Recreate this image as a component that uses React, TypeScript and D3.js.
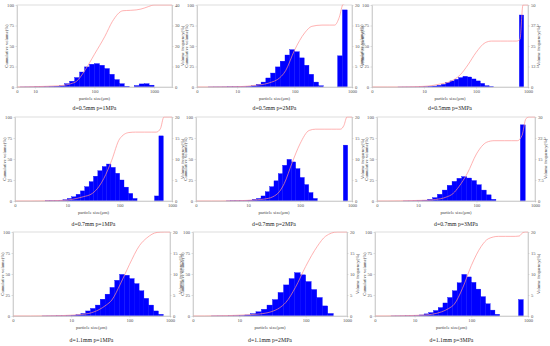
import React, { useEffect, useRef } from "react";
import * as d3 from "d3";

// particle size classes (um), lower/upper edges of the histogram bins
const sizeClasses = [1, 1.21, 1.47, 1.78, 2.15, 2.61, 3.16, 3.83, 4.64, 5.62, 6.81, 8.25,
  10, 12.1, 14.7, 17.8, 21.5, 26.1, 31.6, 38.3, 46.4, 56.2, 68.1, 82.5,
  100, 121, 147, 178, 215, 261, 316, 383, 464, 562, 681, 825, 1000];

// sizes where the cumulative curve was read
const cumSizes = [1, 2, 3, 5, 7, 10, 15, 20, 30, 40, 50, 70, 100, 150, 200, 300, 400, 500, 600, 700, 800, 900, 1000, 2000];

const titles = [
  "d=0.5mm p=1MPa", "d=0.5mm p=2MPa", "d=0.5mm p=3MPa",
  "d=0.7mm p=1MPa", "d=0.7mm p=2MPa", "d=0.7mm p=3MPa",
  "d=1.1mm p=1MPa", "d=1.1mm p=2MPa", "d=1.1mm p=3MPa",
];
const freqMax = [40, 20, 50, 20, 20, 30, 20, 20, 20];
const xDomains = [[5, 2000], [2, 1000], [1, 1000], [1, 1000], [1, 1000], [2, 1000], [1, 500], [2, 420], [2, 1000]];
const xTickLabels = ["0", "10", "100", "1000"];
const cumTicks = [0, 25, 50, 75, 100];

// volume frequency (%) per size class
const freq1 = [0, 0, 0, 0, 0, 0, 0, 0, 0, 0.03, 0.05, 0.07, 0.1, 0.15, 0.2, 0.3, 0.4, 0.6, 1.6, 2.8, 4.6, 7.3, 9.8, 11.1, 11.4, 10.6, 9.0, 6.2, 3.6, 1.6, 0.3, 0, 0.7, 1.5, 1.6, 0.9];
const freq2 = [0, 0, 0, 0, 0, 0, 0.02, 0.03, 0.03, 0.04, 0.05, 0.07, 0.1, 0.12, 0.15, 0.3, 0.65, 1.2, 2.2, 3.4, 4.9, 6.3, 7.8, 9.1, 8.6, 7.1, 5.3, 3.1, 1.2, 0.3, 0, 0, 0, 7.6, 18.8, 0];
const freq3 = [0, 0, 0, 0, 0, 0, 0.02, 0.03, 0.04, 0.05, 0.08, 0.12, 0.2, 0.35, 0.6, 1.0, 1.6, 2.7, 3.7, 4.7, 5.7, 6.5, 6.1, 4.9, 3.7, 2.2, 0.8, 0.2, 0, 0, 0, 0, 0, 0, 43.9, 0];
const freq4 = [0, 0, 0, 0, 0, 0, 0, 0.05, 0.08, 0.12, 0.18, 0.3, 0.6, 1.0, 1.6, 2.4, 3.4, 4.6, 5.9, 7.2, 8.2, 8.8, 8.0, 6.6, 5.0, 3.3, 1.8, 0.6, 0, 0, 0, 0, 1.2, 15.5, 0, 0];
const freq5 = [0, 0, 0, 0, 0, 0, 0, 0.03, 0.05, 0.08, 0.12, 0.15, 0.2, 0.4, 0.6, 1.2, 2.2, 3.4, 4.8, 6.5, 8.5, 9.9, 9.3, 7.7, 5.6, 3.9, 2.0, 0.6, 0, 0, 0, 0, 0, 0, 13.3, 0];
const freq6 = [0, 0, 0, 0, 0, 0, 0, 0, 0, 0.03, 0.05, 0.08, 0.15, 0.3, 0.6, 1.2, 2.4, 3.9, 5.6, 7.0, 8.1, 8.7, 8.2, 7.3, 5.8, 3.9, 2.2, 0.6, 0, 0, 0, 0, 0, 27.2, 0, 0];
const freq7 = [0, 0, 0, 0, 0, 0, 0.02, 0.03, 0.04, 0.05, 0.08, 0.12, 0.2, 0.3, 0.6, 1.2, 1.8, 2.6, 4.0, 5.2, 6.8, 8.5, 9.9, 9.7, 8.9, 7.7, 6.0, 4.2, 2.6, 1.2, 0.4, 0, 0, 0, 0, 0];
const freq8 = [0, 0, 0, 0, 0, 0, 0, 0.02, 0.03, 0.03, 0.05, 0.08, 0.12, 0.25, 0.55, 1.0, 1.6, 2.6, 3.9, 5.6, 7.4, 8.9, 10.3, 9.8, 8.2, 6.3, 4.4, 2.4, 0.6, 0, 0, 0, 0, 0, 0, 0];
const freq9 = [0, 0, 0, 0, 0, 0, 0, 0.02, 0.03, 0.04, 0.05, 0.08, 0.12, 0.25, 0.5, 0.8, 1.3, 2.0, 3.1, 4.4, 6.0, 7.9, 9.9, 9.3, 8.0, 6.4, 4.6, 2.9, 1.4, 0.4, 0, 0, 0, 0, 3.9, 0];

// cumulative volume (%) at cumSizes
const cum1 = [0, 0, 0, 0, 0.1, 0.4, 0.8, 1.2, 2, 4, 7, 21, 40, 62, 80, 93, 93.5, 94, 95, 96.5, 98, 99.3, 100, 100];
const cum2 = [0, 0, 0, 0.1, 0.2, 0.4, 1, 2, 3.5, 6, 9, 20, 45, 66, 74, 75.5, 75.5, 75.5, 85, 101, 102, 102, 102, 102];
const cum3 = [0, 0, 0, 0.2, 0.4, 0.8, 2, 3.5, 6, 10, 15, 27, 42, 54, 56, 56, 56, 56, 56, 58, 100, 100, 100, 100];
const cum4 = [0, 0, 0.1, 0.3, 0.6, 1.2, 3, 5, 9, 17, 27, 48, 74, 81.5, 82, 82, 82, 82, 86, 100, 100, 100, 100, 100];
const cum5 = [0, 0, 0, 0.2, 0.4, 0.8, 1.5, 2.2, 5, 11, 21, 45, 68, 84, 85.5, 85.5, 85.5, 85.5, 85.5, 90, 100, 100, 100, 100];
const cum6 = [0, 0, 0, 0.2, 0.4, 0.7, 1, 1.8, 4.5, 9, 17, 33, 56, 70, 71.8, 71.8, 71.8, 71.8, 78, 98, 100, 100, 100, 100];
const cum7 = [0, 0, 0.1, 0.3, 0.5, 1, 1.8, 3, 7.5, 13, 19, 38, 61, 84, 93, 99.5, 100, 100, 100, 100, 100, 100, 100, 100];
const cum8 = [0, 0, 0, 0.3, 0.5, 1, 1.6, 2.4, 5, 9.5, 16, 34, 59, 83, 95, 100, 100, 100, 100, 100, 100, 100, 100, 100];
const cum9 = [0, 0, 0, 0.2, 0.4, 0.7, 1.2, 2, 5, 9, 14, 33, 60, 83, 92, 94.8, 94.8, 94.8, 94.8, 95.2, 99, 100, 100, 100];

const freqs = [freq1, freq2, freq3, freq4, freq5, freq6, freq7, freq8, freq9];
const cums = [cum1, cum2, cum3, cum4, cum5, cum6, cum7, cum8, cum9];

// plot boxes of the 3x3 grid (px)
const boxes = [
  { l: 17, r: 172, t: 5, b: 87, title: 110 },
  { l: 197, r: 352, t: 5, b: 87, title: 110 },
  { l: 372, r: 528, t: 5, b: 87, title: 110 },
  { l: 15, r: 172, t: 117, b: 201, title: 226 },
  { l: 196, r: 352, t: 117, b: 201, title: 226 },
  { l: 377, r: 535, t: 117, b: 201, title: 226 },
  { l: 13, r: 170, t: 232, b: 316, title: 342 },
  { l: 193, r: 347, t: 232, b: 316, title: 342 },
  { l: 375, r: 528, t: 232, b: 316, title: 342 },
];

const FONT = "'Liberation Serif', 'Times New Roman', serif";

export default function App() {
  const ref = useRef<SVGSVGElement>(null);

  useEffect(() => {
    const svg = d3.select(ref.current);
    svg.selectAll("*").remove();

    boxes.forEach((bx, i) => {
      const [lo, hi] = xDomains[i];
      const x = d3.scaleLog().domain([lo, hi]).range([bx.l, bx.r]);
      const yCum = d3.scaleLinear().domain([0, 100]).range([bx.b, bx.t]);
      const yFreq = d3.scaleLinear().domain([0, freqMax[i]]).range([bx.b, bx.t]);
      const g = svg.append("g");

      g.append("clipPath").attr("id", `clip${i}`)
        .append("rect")
        .attr("x", bx.l).attr("y", bx.t - 0.5)
        .attr("width", bx.r - bx.l).attr("height", bx.b - bx.t + 1.5);

      // bars
      const bins = freqs[i]
        .map((v, k) => ({ x0: sizeClasses[k], x1: sizeClasses[k + 1], v }))
        .filter(d => d.v > 0 && d.x1 > lo && d.x0 < hi);
      g.append("g").attr("clip-path", `url(#clip${i})`)
        .selectAll("rect")
        .data(bins)
        .join("rect")
        .attr("x", d => x(Math.max(d.x0, lo)))
        .attr("width", d => x(Math.min(d.x1, hi)) - x(Math.max(d.x0, lo)))
        .attr("y", d => yFreq(d.v))
        .attr("height", d => bx.b - yFreq(d.v))
        .attr("fill", "#0000ff")
        .attr("stroke", "#0000ff")
        .attr("stroke-width", 0.35);

      // frame
      g.append("rect")
        .attr("x", bx.l).attr("y", bx.t)
        .attr("width", bx.r - bx.l).attr("height", bx.b - bx.t)
        .attr("fill", "none").attr("stroke", "#d4d4d4").attr("stroke-width", 0.8);

      // cumulative curve
      const line = d3.line<number[]>()
        .x(d => x(d[0]))
        .y(d => yCum(d[1]))
        .curve(d3.curveMonotoneX);
      g.append("path")
        .attr("clip-path", `url(#clip${i})`)
        .datum(cumSizes.map((s, k) => [s, cums[i][k]]))
        .attr("d", line)
        .attr("fill", "none")
        .attr("stroke", "#ff9090")
        .attr("stroke-width", 0.7);

      // axes
      const styleAxis = (a: any) => {
        a.select(".domain").attr("stroke", "#bdbdbd").attr("stroke-width", 0.6);
        a.selectAll(".tick line").attr("stroke", "#bdbdbd").attr("stroke-width", 0.5);
        a.selectAll("text").attr("font-size", 4.6).attr("font-family", FONT).attr("fill", "#555");
      };

      g.append("g")
        .attr("transform", `translate(${bx.l},0)`)
        .call(d3.axisLeft(yCum).tickValues(cumTicks).tickSize(1.5).tickSizeOuter(0).tickPadding(1.5))
        .call(styleAxis);

      const fTicks = d3.range(5).map(k => freqMax[i] * k / 4);
      g.append("g")
        .attr("transform", `translate(${bx.r},0)`)
        .call(d3.axisRight(yFreq).tickValues(fTicks).tickFormat(d => String(d)).tickSize(1.5).tickSizeOuter(0).tickPadding(1.5))
        .call(styleAxis);

      const xTicks = [lo, 10, 100, Math.min(1000, hi)];
      g.append("g")
        .attr("transform", `translate(0,${bx.b})`)
        .call(d3.axisBottom(x).tickValues(xTicks).tickFormat((d, j) => xTickLabels[j]).tickSize(1.5).tickSizeOuter(0).tickPadding(1))
        .call(styleAxis);

      // axis titles
      const midY = (bx.t + bx.b) / 2;
      g.append("text")
        .attr("transform", `translate(${bx.l - 9},${midY}) rotate(-90)`)
        .attr("text-anchor", "middle")
        .attr("font-size", 4.6).attr("font-family", FONT).attr("fill", "#444")
        .text("Cumulative volume(%)");
      g.append("text")
        .attr("transform", `translate(${bx.r + 12},${midY}) rotate(-90)`)
        .attr("text-anchor", "middle")
        .attr("font-size", 4.6).attr("font-family", FONT).attr("fill", "#444")
        .text("Volume frequency(%)");
      g.append("text")
        .attr("x", (bx.l + bx.r) / 2).attr("y", bx.b + 12.5)
        .attr("text-anchor", "middle")
        .attr("font-size", 4.6).attr("font-family", FONT).attr("fill", "#444")
        .text("particle size(μm)");

      // panel caption
      g.append("text")
        .attr("x", (bx.l + bx.r) / 2).attr("y", bx.title)
        .attr("text-anchor", "middle")
        .attr("font-size", 5.8).attr("font-family", FONT).attr("fill", "#222")
        .text(titles[i]);
    });
  }, []);

  return (
    <svg ref={ref} width={550} height={346}
      style={{ position: "absolute", left: 0, top: 0, background: "#fff" }} />
  );
}
